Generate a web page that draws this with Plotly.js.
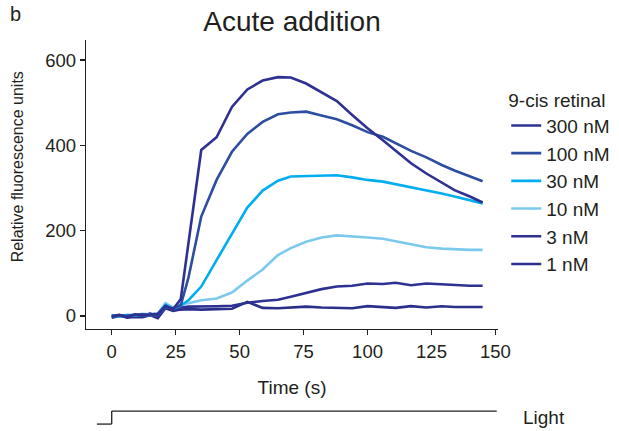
<!DOCTYPE html>
<html>
<head>
<meta charset="utf-8">
<script src="https://cdn.plot.ly/plotly-3.0.1.min.js"></script>
<style>html,body{margin:0;padding:0;background:#fff;}#chart{width:619px;height:431px;}</style>
</head>
<body>
<div id="chart"></div>
<script>
// Time (s)
const time = [0, 3, 6, 9, 12, 15, 18, 21, 24, 27, 30, 35, 41, 47, 53, 59, 65, 70, 76, 82, 88, 94, 100, 106, 111, 117, 123, 129, 134, 140, 145];

// Relative fluorescence units per 9-cis retinal concentration
const nM300 = [0, 3, -2, 4, 2, 3, 5, 24, 16, 40, 170, 389, 419, 490, 531, 552, 560, 559, 545, 524, 504, 471, 440, 412, 387, 358, 334, 312, 295, 280, 266];
const nM100 = [-2, 1, 0, 2, 4, 1, 3, 20, 18, 25, 90, 233, 319, 385, 427, 455, 473, 477, 479, 470, 461, 447, 431, 420, 405, 387, 372, 354, 341, 328, 316];
const nM30  = [1, -1, 2, 1, 3, 2, 4, 26, 17, 24, 37, 69, 131, 194, 254, 294, 317, 327, 328, 328, 330, 325, 319, 315, 309, 303, 295, 287, 280, 272, 264];
const nM10  = [2, 0, 3, 2, 5, 4, 6, 30, 20, 28, 30, 37, 41, 55, 83, 109, 143, 159, 174, 184, 189, 187, 184, 181, 175, 167, 161, 158, 156, 155, 155];
const nM3   = [-3, 2, -4, 0, -1, 6, -2, 20, 14, 20, 22, 22, 23, 24, 31, 35, 38, 45, 54, 63, 69, 71, 76, 75, 78, 72, 76, 74, 72, 71, 71];
const nM1   = [-4, 0, -3, -2, -3, 2, -5, 18, 12, 15, 16, 15, 16, 17, 33, 19, 18, 20, 22, 20, 19, 18, 23, 21, 19, 23, 20, 23, 21, 21, 21];

const seriesNames = ['300 nM', '100 nM', '30 nM', '10 nM', '3 nM', '1 nM'];
const seriesValues = [nM300, nM100, nM30, nM10, nM3, nM1];
const seriesColors = ['#2E3192', '#2D4DA0', '#00AEEF', '#7DC9EE', '#2E3192', '#2B2F8C'];

const xTicks = [0, 25, 50, 75, 100, 125, 150];
const yTicks = [0, 200, 400, 600];

const drawOrder = [5, 4, 3, 2, 1, 0];
const traces = seriesNames.map((name, i) => ({
  x: time,
  y: seriesValues[i],
  type: 'scatter',
  mode: 'lines',
  name: name,
  legendrank: i + 1,
  line: {color: seriesColors[i], width: 2.6},
  hoverinfo: 'skip'
}));

const font = 'Arial, "Liberation Sans", Helvetica, sans-serif';

const layout = {
  width: 619, height: 431,
  margin: {l: 86, r: 121, t: 40, b: 102, autoexpand: false},
  paper_bgcolor: '#fff', plot_bgcolor: '#fff',
  font: {family: font, size: 18.5, color: '#231F20'},
  title: {text: 'Acute addition', font: {size: 28, color: '#231F20'}, x: 0.5, xref: 'paper', y: 0.951, yref: 'container', yanchor: 'middle'},
  xaxis: {
    range: [-10.05, 151], tickvals: xTicks, ticktext: xTicks.map(String),
    showgrid: false, zeroline: false, showline: true, linecolor: '#231F20', linewidth: 1.3,
    ticks: 'outside', ticklen: 5, tickwidth: 1.3, tickcolor: '#231F20',
    tickfont: {size: 18.5},
    title: {text: 'Time (s)', font: {size: 19}, standoff: 20}
  },
  yaxis: {
    range: [-30.5, 647], tickvals: yTicks, ticktext: yTicks.map(String),
    showgrid: false, zeroline: false, showline: true, linecolor: '#231F20', linewidth: 1.3,
    ticks: 'outside', ticklen: 5, tickwidth: 1.3, tickcolor: '#231F20',
    tickfont: {size: 18.5}
  },
  showlegend: true,
  legend: {
    x: 1.02, y: 0.855, xanchor: 'left', yanchor: 'top',
    title: {text: '9-cis retinal', font: {size: 19}},
    font: {size: 19}, bgcolor: 'rgba(0,0,0,0)', traceorder: 'normal'
  },
  shapes: [
    {type: 'line', xref: 'x', yref: 'paper', x0: -5.8, x1: 0, y0: -0.329, y1: -0.329, line: {color: '#231F20', width: 1.3}},
    {type: 'line', xref: 'x', yref: 'paper', x0: 0, x1: 0, y0: -0.329, y1: -0.284, line: {color: '#231F20', width: 1.3}},
    {type: 'line', xref: 'x', yref: 'paper', x0: 0, x1: 150.5, y0: -0.284, y1: -0.284, line: {color: '#231F20', width: 1.3}}
  ],
  annotations: [
    {text: 'Relative fluorescence units', xref: 'paper', yref: 'paper', x: -0.167, y: 0.56, xanchor: 'center', yanchor: 'middle', textangle: -90, showarrow: false, font: {size: 16}},
    {text: 'Light', xref: 'paper', yref: 'paper', x: 1.056, y: -0.305, xanchor: 'left', yanchor: 'middle', showarrow: false, font: {size: 19}},
    {text: 'b', xref: 'paper', yref: 'paper', x: -0.19, y: 1.136, xanchor: 'left', yanchor: 'top', showarrow: false, font: {size: 20}}
  ]
};

Plotly.newPlot('chart', drawOrder.map(i => traces[i]), layout, {displayModeBar: false, staticPlot: true});
</script>
</body>
</html>
